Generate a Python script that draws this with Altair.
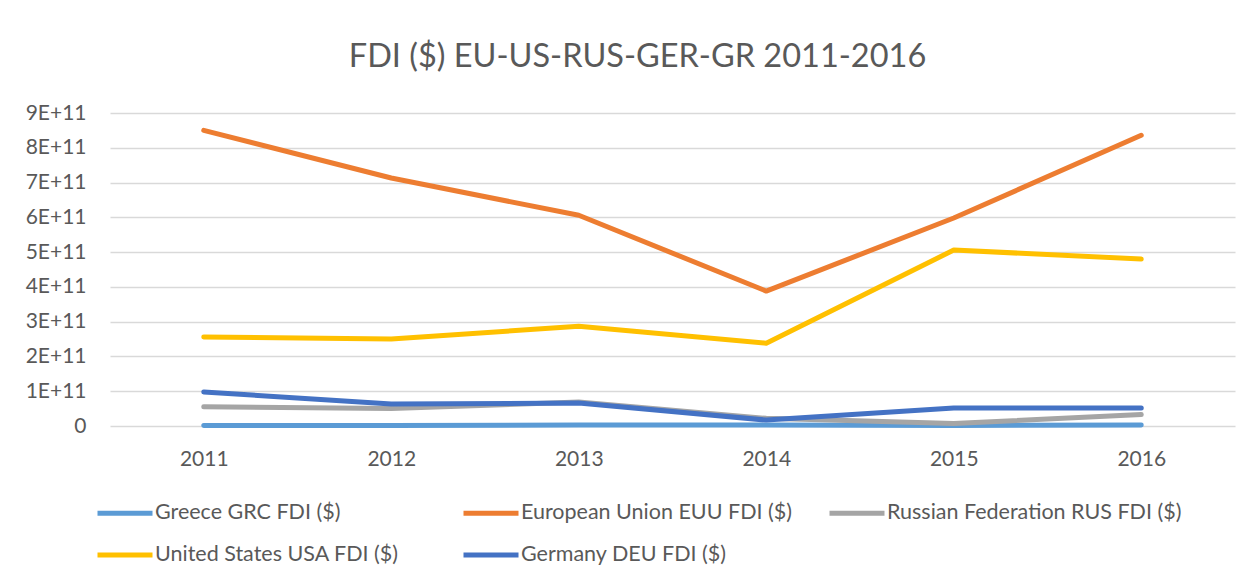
import altair as alt
import pandas as pd

years = ["2011", "2012", "2013", "2014", "2015", "2016"]
series_names = [
    "Greece GRC FDI ($)",
    "European Union EUU FDI ($)",
    "Russian Federation RUS FDI ($)",
    "United States USA FDI ($)",
    "Germany DEU FDI ($)",
]
greece = [1.1e9, 1.7e9, 2.9e9, 2.7e9, 1.3e9, 3.1e9]
eu = [8.50e11, 7.13e11, 6.06e11, 3.88e11, 5.98e11, 8.36e11]
russia = [5.5e10, 5.0e10, 6.9e10, 2.2e10, 0.7e10, 3.3e10]
usa = [2.56e11, 2.50e11, 2.87e11, 2.38e11, 5.06e11, 4.80e11]
germany = [9.8e10, 6.3e10, 6.6e10, 1.7e10, 5.2e10, 5.2e10]
colors = ["#5B9BD5", "#ED7D31", "#A5A5A5", "#FFC000", "#4472C4"]
y_ticks = [0, 1e11, 2e11, 3e11, 4e11, 5e11, 6e11, 7e11, 8e11, 9e11]

# legend fills column by column (2 rows), so order the domain to read row-wise
legend_order = [0, 3, 1, 4, 2]
legend_domain = [series_names[i] for i in legend_order]
legend_colors = [colors[i] for i in legend_order]

rows = []
for name, vals in zip(series_names, [greece, eu, russia, usa, germany]):
    for yr, v in zip(years, vals):
        rows.append({"Year": yr, "Series": name, "Value": v})
df = pd.DataFrame(rows)

FONT = "Lato"
GRAY = "#595959"

chart = (
    alt.Chart(df)
    .mark_line(strokeWidth=5, strokeCap="round", strokeJoin="round")
    .encode(
        x=alt.X(
            "Year:N",
            sort=years,
            scale=alt.Scale(paddingInner=1, paddingOuter=0.5),
            axis=alt.Axis(
                title=None,
                labelAngle=0,
                labelFontSize=21,
                labelColor=GRAY,
                labelFont=FONT,
                labelPadding=22,
                domain=False,
                ticks=False,
                grid=False,
            ),
        ),
        y=alt.Y(
            "Value:Q",
            scale=alt.Scale(domain=[0, 9e11], nice=False),
            axis=alt.Axis(
                title=None,
                values=y_ticks,
                labelExpr="datum.value == 0 ? '0' : format(datum.value / 1e11, 'd') + 'E+11'",
                labelFontSize=21,
                labelColor=GRAY,
                labelFont=FONT,
                labelPadding=24,
                domain=False,
                ticks=False,
                grid=True,
                gridColor="#D9D9D9",
                gridWidth=1.5,
            ),
        ),
        color=alt.Color(
            "Series:N",
            scale=alt.Scale(domain=legend_domain, range=legend_colors),
            legend=alt.Legend(
                title=None,
                orient="none",
                legendX=-15,
                legendY=370,
                columns=3,
                gridAlign="all",
                columnPadding=3,
                rowPadding=1,
                symbolType="stroke",
                symbolSize=3025,
                symbolStrokeWidth=5,
                labelOffset=0,
                labelFontSize=21.5,
                labelFont=FONT,
                labelColor=GRAY,
                labelLimit=400,
            ),
        ),
    )
    .properties(
        width=1125,
        height=313,
        autosize=alt.AutoSizeParams(type="none"),
        padding={"left": 102, "top": 105, "right": 12, "bottom": 150},
        title=alt.TitleParams(
            text="FDI ($) EU-US-RUS-GER-GR 2011-2016",
            fontSize=32.5,
            font=FONT,
            fontWeight="normal",
            color=GRAY,
            anchor="middle",
            baseline="alphabetic",
            offset=3,
            dx=-35,
        ),
    )
    .configure_view(stroke=None)
)

chart.save("out.html", embed_options={"renderer": "svg", "actions": False})
